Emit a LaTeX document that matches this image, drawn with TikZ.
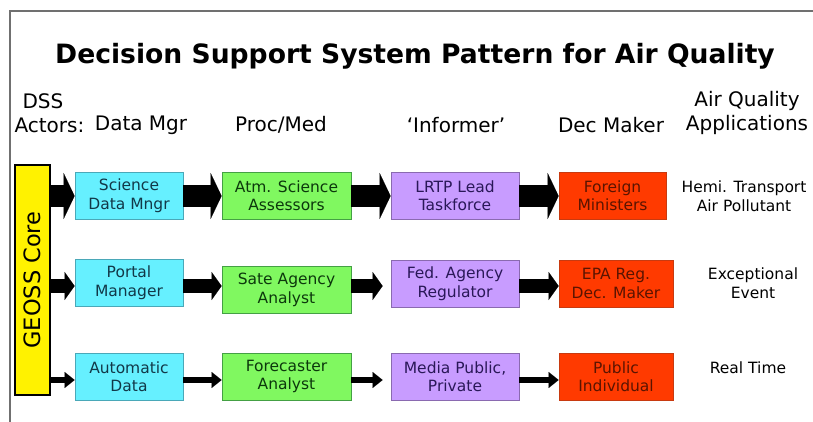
\documentclass[tikz,border=0pt]{standalone}
\usepackage{fontspec}
\setmainfont{DejaVu Sans}
\usetikzlibrary{arrows.meta}

\definecolor{mgrfill}{HTML}{66F0FF}
\definecolor{mgrline}{HTML}{4AA8B8}
\definecolor{mgrtext}{HTML}{123848}
\definecolor{procfill}{HTML}{80F860}
\definecolor{procline}{HTML}{44A044}
\definecolor{proctext}{HTML}{0C380C}
\definecolor{infofill}{HTML}{C89CFF}
\definecolor{infoline}{HTML}{8A6AB0}
\definecolor{infotext}{HTML}{2A1858}
\definecolor{decfill}{HTML}{FF3A00}
\definecolor{decline}{HTML}{C83A10}
\definecolor{dectext}{HTML}{5A1400}
\definecolor{framegray}{HTML}{707070}

\begin{document}
\begin{tikzpicture}[x=1pt,y=-1pt,
  box/.style={draw, line width=0.8pt, align=center, inner sep=0pt,
    minimum height=47pt, font=\fontsize{15.5}{18.5}\selectfont},
  mgr/.style={box, fill=mgrfill, draw=mgrline, text=mgrtext, minimum width=108pt},
  proc/.style={box, fill=procfill, draw=procline, text=proctext, minimum width=129pt},
  info/.style={box, fill=infofill, draw=infoline, text=infotext, minimum width=128pt},
  dec/.style={box, fill=decfill, draw=decline, text=dectext, minimum width=114pt},
  head/.style={font=\fontsize{20}{22}\selectfont},
  app/.style={align=center, font=\fontsize{15.5}{18.5}\selectfont},
  fatA/.style={line width=22pt, -{Triangle[length=11pt,width=46pt,line width=0.1pt]}},
  fatB/.style={line width=14pt, -{Triangle[length=10pt,width=28pt,line width=0.1pt]}},
  fatC/.style={line width=6.5pt, -{Triangle[length=10pt,width=16pt,line width=0.1pt]}}]

\useasboundingbox (0,0) rectangle (813,422);

%% frame
\draw[framegray, line width=1.5pt] (10,422) -- (10,11) -- (813,11);

%% title and column heads
\node[font=\bfseries\fontsize{26.6}{29}\selectfont] (title) at (415,56)
  {Decision Support System Pattern for Air Quality};
\node[head, anchor=west] (dss) at (19,101) {DSS};
\node[head, anchor=west] (actors) at (11,125) {Actors:};
\node[head] (hmgr) at (141,125) {Data Mgr};
\node[head] (hproc) at (281,125) {Proc/Med};
\node[head] (hinfo) at (456,125) {`Informer'};
\node[head] (hdec) at (611,125) {Dec Maker};
\node[head] (hair) at (747,101) {Air Quality};
\node[head] (happ) at (747,125) {Applications};

%% GEOSS core (rotated, so its south side faces right)
\node[draw, line width=2.8pt, fill=yellow, rotate=90, inner sep=0pt,
  minimum width=230pt, minimum height=35pt,
  font=\fontsize{22.5}{24}\selectfont] (geoss) at (32.5,280) {GEOSS Core};

%% row levels of the arrows
\coordinate (r1) at (0,196);
\coordinate (r2) at (0,286);
\coordinate (r3) at (0,380);

%% row 1
\node[mgr] (sci) at (129,195.5) {Science\\Data Mngr};
\node[proc] (atm) at (286.5,195.5) {Atm. Science\\Assessors};
\node[info] (lrtp) at (455,195.5) {LRTP Lead\\Taskforce};
\node[dec, minimum width=107pt] (fmin) at (612.5,195.5) {Foreign\\Ministers};
\node[app] (hemi) at (744,196) {Hemi. Transport\\Air Pollutant};

%% row 2
\node[mgr] (portal) at (129,282.5) {Portal\\Manager};
\node[proc] (sate) at (286.5,290) {Sate Agency\\Analyst};
\node[info] (fed) at (455,283.5) {Fed. Agency\\Regulator};
\node[dec] (epa) at (616,283.5) {EPA Reg.\\Dec. Maker};
\node[app] (exc) at (753,283) {Exceptional\\Event};

%% row 3
\node[mgr] (auto) at (129,376.5) {Automatic\\Data};
\node[proc] (fore) at (286.5,376.5) {Forecaster\\Analyst};
\node[info] (media) at (455,376.5) {Media Public,\\Private};
\node[dec] (pub) at (616,376.5) {Public\\Individual};
\node[app] (real) at (748,368) {Real Time};

%% arrows
\draw[fatA] (geoss.south |- r1) -- (sci.west |- r1);
\draw[fatA] (sci.east |- r1) -- (atm.west |- r1);
\draw[fatA] (atm.east |- r1) -- (lrtp.west |- r1);
\draw[fatA] (lrtp.east |- r1) -- (fmin.west |- r1);

\draw[fatB] (geoss.south |- r2) -- (portal.west |- r2);
\draw[fatB] (portal.east |- r2) -- (sate.west |- r2);
\draw[fatB, shorten >=8pt] (sate.east |- r2) -- (fed.west |- r2);
\draw[fatB] (fed.east |- r2) -- (epa.west |- r2);

\draw[fatC] (geoss.south |- r3) -- (auto.west |- r3);
\draw[fatC] (auto.east |- r3) -- (fore.west |- r3);
\draw[fatC, shorten >=8pt] (fore.east |- r3) -- (media.west |- r3);
\draw[fatC] (media.east |- r3) -- (pub.west |- r3);

\end{tikzpicture}
\end{document}
